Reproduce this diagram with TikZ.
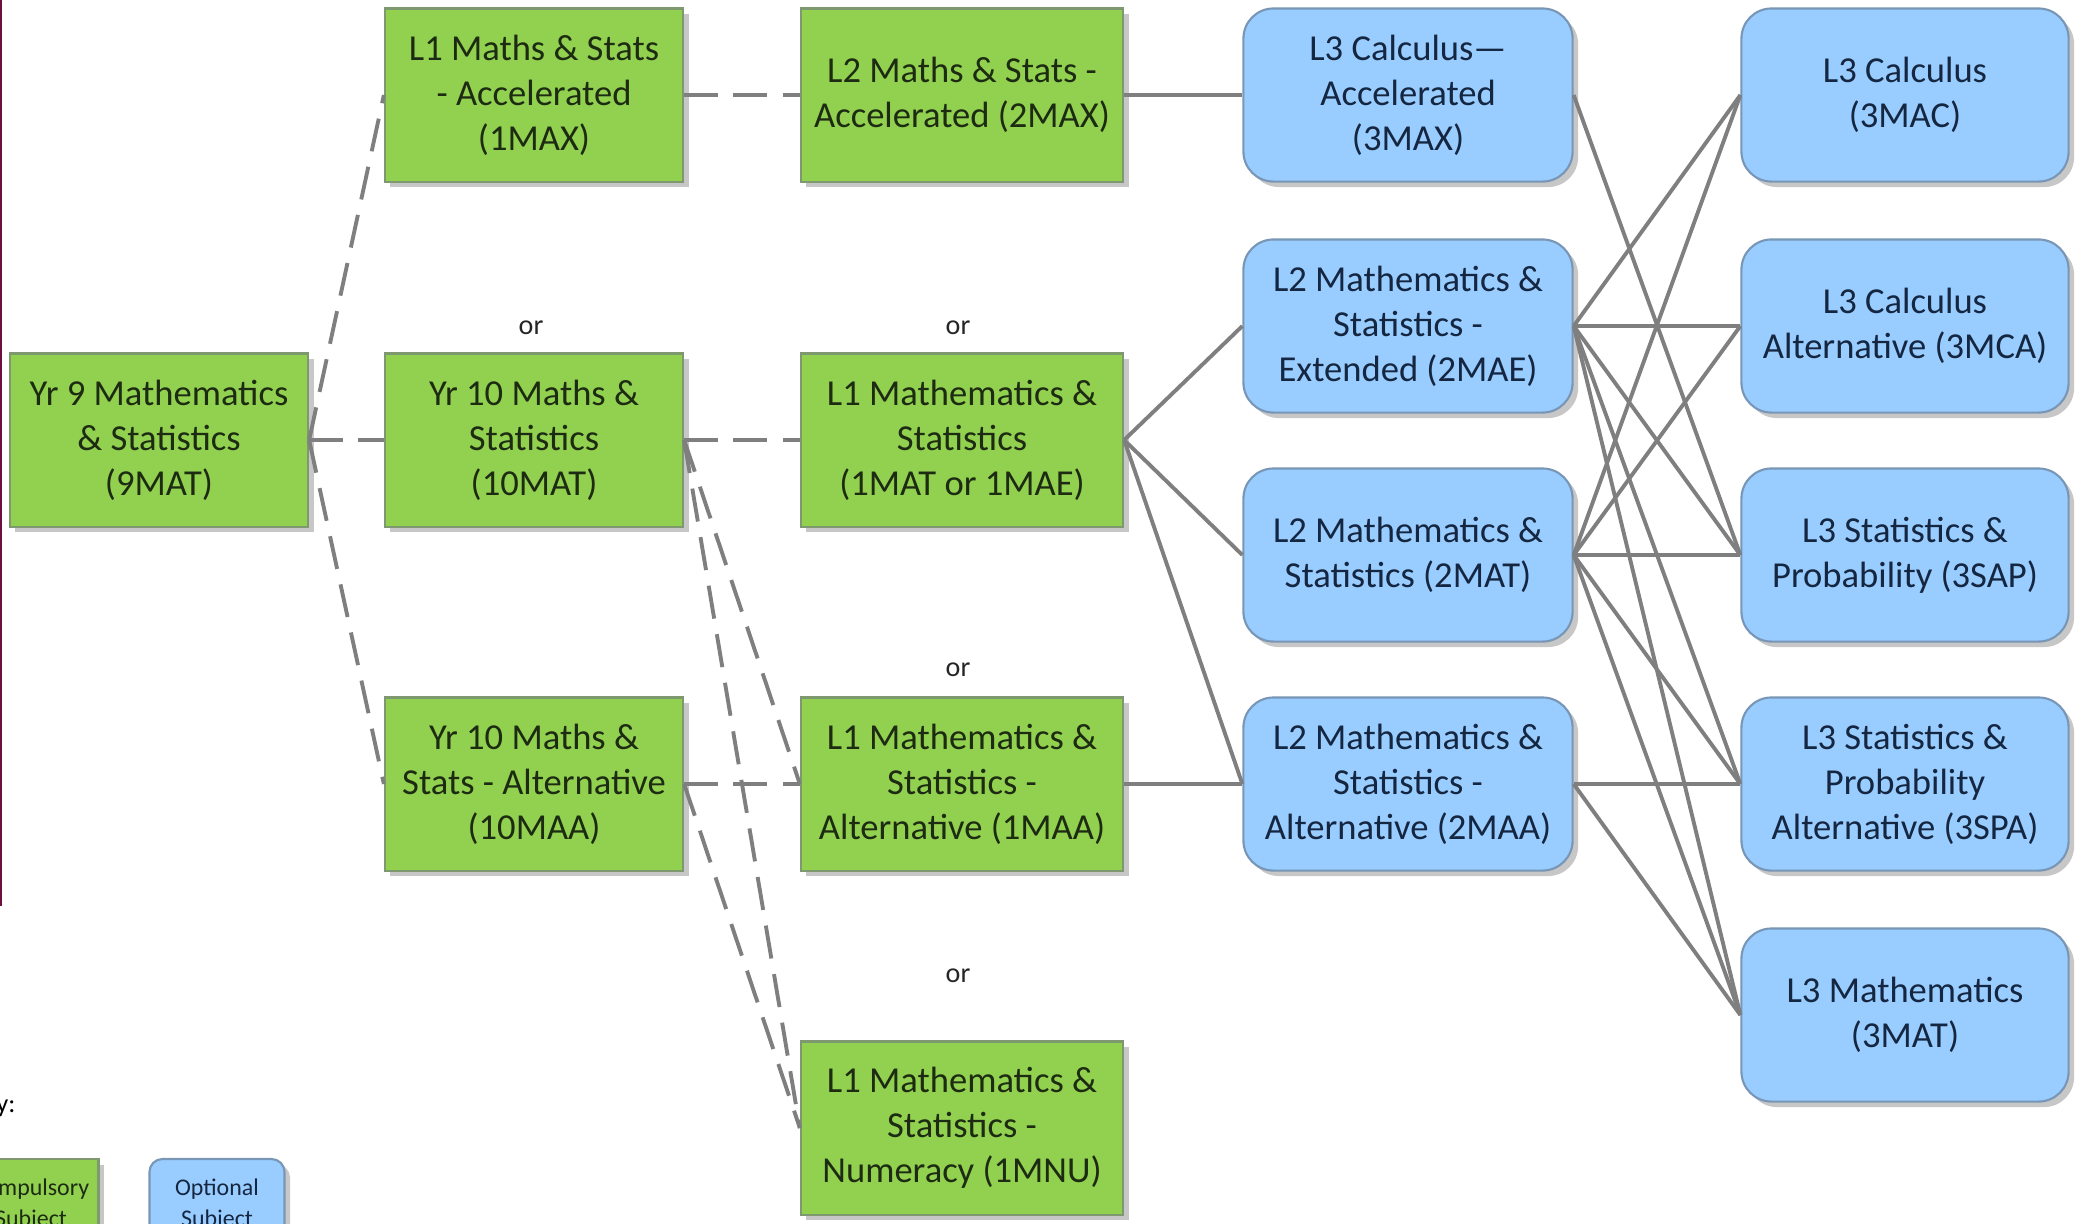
\documentclass[tikz,border=0pt]{standalone}
\usepackage{xcolor}
\usepackage{fontspec}
\setmainfont{Carlito}
\usepackage{tikz}
\usetikzlibrary{positioning,shadows}

\definecolor{compgreen}{HTML}{92D050}
\definecolor{compedge}{HTML}{7E9870}
\definecolor{optblue}{HTML}{99CCFF}
\definecolor{optedge}{HTML}{7896B6}
\definecolor{linkgray}{HTML}{7F7F7F}
\definecolor{greentext}{HTML}{1C2B12}
\definecolor{bluetext}{HTML}{142640}
\definecolor{marginline}{HTML}{6B1040}

\tikzset{
	course/.style={draw, line width=0.6pt, align=center, inner sep=2pt,
		minimum height=1.73cm, font=\fontsize{10.4}{12.8}\selectfont,
		drop shadow={shadow xshift=0.055cm, shadow yshift=-0.055cm, fill=black!22, opacity=1}},
	compulsory/.style={course, fill=compgreen, draw=compedge, text=greentext},
	optional/.style={course, fill=optblue, draw=optedge, text=bluetext, rounded corners=0.3cm},
	keybox/.style={minimum width=1.35cm, minimum height=0.92cm, font=\fontsize{6.8}{8.8}\selectfont},
	link/.style={color=linkgray, line width=1.1pt},
	dashlink/.style={link, dash pattern=on 9.5pt off 4.5pt},
	ortext/.style={font=\fontsize{8}{9.6}\selectfont, text=black!85},
}

\begin{document}
\begin{tikzpicture}[x=0.01cm, y=-0.01cm]
	\useasboundingbox (0,0) rectangle (2080,1223);
	\draw[color=marginline, line width=0.5pt] (1,0) -- (1,906);
	\node[compulsory, minimum width=2.98cm] (9MAT) at (159,440) {Yr 9 Mathematics\\\& Statistics\\(9MAT)};
	\node[compulsory, minimum width=2.98cm] (1MAX) at (534,95) {L1 Maths \& Stats\\- Accelerated\\(1MAX)};
	\node[compulsory, minimum width=2.98cm] (10MAT) at (534,440) {Yr 10 Maths \&\\Statistics\\(10MAT)};
	\node[compulsory, minimum width=2.98cm] (10MAA) at (534,784) {Yr 10 Maths \&\\Stats - Alternative\\(10MAA)};
	\node[compulsory, minimum width=3.22cm] (2MAX) at (962,95) {L2 Maths \& Stats -\\Accelerated (2MAX)};
	\node[compulsory, minimum width=3.22cm] (1MAT) at (962,440) {L1 Mathematics \&\\Statistics\\(1MAT or 1MAE)};
	\node[compulsory, minimum width=3.22cm] (1MAA) at (962,784) {L1 Mathematics \&\\Statistics -\\Alternative (1MAA)};
	\node[compulsory, minimum width=3.22cm] (1MNU) at (962,1128) {L1 Mathematics \&\\Statistics -\\Numeracy (1MNU)};
	\node[optional, minimum width=3.29cm] (3MAX) at (1408,95) {L3 Calculus—\\Accelerated\\(3MAX)};
	\node[optional, minimum width=3.29cm] (2MAE) at (1408,326) {L2 Mathematics \&\\Statistics -\\Extended (2MAE)};
	\node[optional, minimum width=3.29cm] (2MAT) at (1408,555) {L2 Mathematics \&\\Statistics (2MAT)};
	\node[optional, minimum width=3.29cm] (2MAA) at (1408,784) {L2 Mathematics \&\\Statistics -\\Alternative (2MAA)};
	\node[optional, minimum width=3.27cm] (3MAC) at (1905,95) {L3 Calculus\\(3MAC)};
	\node[optional, minimum width=3.27cm] (3MCA) at (1905,326) {L3 Calculus\\Alternative (3MCA)};
	\node[optional, minimum width=3.27cm] (3SAP) at (1905,555) {L3 Statistics \&\\Probability (3SAP)};
	\node[optional, minimum width=3.27cm] (3SPA) at (1905,784) {L3 Statistics \&\\Probability\\Alternative (3SPA)};
	\node[optional, minimum width=3.27cm] (3MAT) at (1905,1015) {L3 Mathematics\\(3MAT)};
	\node[ortext] (or1) at (531,328) {or};
	\node[ortext] (or2) at (958,328) {or};
	\node[ortext] (or3) at (958,670) {or};
	\node[ortext] (or4) at (958,976) {or};
	\node[anchor=east, inner sep=0pt, font=\fontsize{7.5}{9}\selectfont] (keytitle) at (16,1106) {Key:};
	\node[compulsory, keybox] (keycomp) at (31,1205) {Compulsory\\Subject};
	\node[optional, keybox, rounded corners=0.13cm] (keyopt) at (217,1205) {Optional\\Subject};
	\draw[dashlink] (9MAT.east) -- (1MAX.west);
	\draw[dashlink] (9MAT.east) -- (10MAT.west);
	\draw[dashlink] (9MAT.east) -- (10MAA.west);
	\draw[dashlink] (1MAX.east) -- (2MAX.west);
	\draw[dashlink] (10MAT.east) -- (1MAT.west);
	\draw[dashlink] (10MAT.east) -- (1MAA.west);
	\draw[dashlink] (10MAT.east) -- (1MNU.west);
	\draw[dashlink] (10MAA.east) -- (1MAA.west);
	\draw[dashlink] (10MAA.east) -- (1MNU.west);
	\draw[link] (2MAX.east) -- (3MAX.west);
	\draw[link] (1MAT.east) -- (2MAE.west);
	\draw[link] (1MAT.east) -- (2MAT.west);
	\draw[link] (1MAT.east) -- (2MAA.west);
	\draw[link] (1MAA.east) -- (2MAA.west);
	\draw[link] (3MAX.east) -- (3SAP.west);
	\draw[link] (2MAE.east) -- (3MAC.west);
	\draw[link] (2MAE.east) -- (3MCA.west);
	\draw[link] (2MAE.east) -- (3SAP.west);
	\draw[link] (2MAE.east) -- (3SPA.west);
	\draw[link] (2MAE.east) -- (3MAT.west);
	\draw[link] (2MAT.east) -- (3MAC.west);
	\draw[link] (2MAT.east) -- (3MCA.west);
	\draw[link] (2MAT.east) -- (3SAP.west);
	\draw[link] (2MAT.east) -- (3SPA.west);
	\draw[link] (2MAT.east) -- (3MAT.west);
	\draw[link] (2MAA.east) -- (3SPA.west);
	\draw[link] (2MAA.east) -- (3MAT.west);
\end{tikzpicture}
\end{document}
